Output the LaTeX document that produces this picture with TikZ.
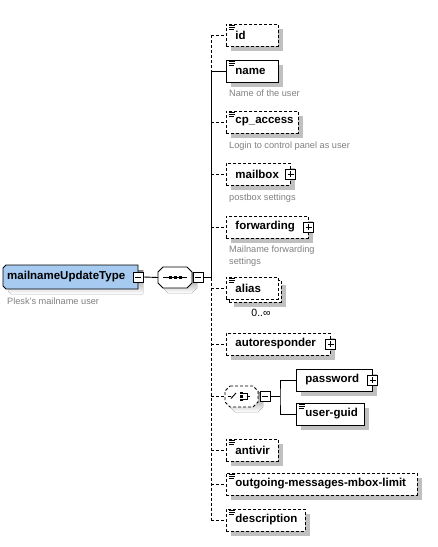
\documentclass[tikz,border=0pt]{standalone}
\usepackage{fontspec}
\setmainfont{Liberation Sans}
\usetikzlibrary{shadows}
\definecolor{shade}{RGB}{192,192,192}
\definecolor{rootblue}{RGB}{166,202,240}
\newcommand\elt[2]{\makebox[#1pt][l]{#2}}
\newcommand\docicon[1]{\draw[line width=.8pt] ([shift={(3,2)}]#1.north west) -- ++(6,0) ([shift={(3,4)}]#1.north west) -- ++(6,0) ([shift={(3,6)}]#1.north west) -- ++(5,0);}
% octagon outline with shadow: x0,y0,x1,y1,chamfer,style
\newcommand\octo[6]{%
  \fill[shade] (#1+#5+5,#2+5) -- (#3-#5+5,#2+5) -- (#3+5,#2+#5+5) -- (#3+5,#4-#5+5) -- (#3-#5+5,#4+5) -- (#1+#5+5,#4+5) -- (#1+5,#4-#5+5) -- (#1+5,#2+#5+5) -- cycle;
  \draw[line width=.9pt, fill=white, #6] (#1+#5,#2) -- (#3-#5,#2) -- (#3,#2+#5) -- (#3,#4-#5) -- (#3-#5,#4) -- (#1+#5,#4) -- (#1,#4-#5) -- (#1,#2+#5) -- cycle;}
\tikzset{
  elem/.style={draw, line width=.9pt, fill=white, rectangle, inner xsep=9pt, inner ysep=0pt,
    minimum height=22pt, anchor=west, font=\fontsize{11.5}{13}\selectfont\bfseries},
  shad/.style={drop shadow={shadow xshift=5pt, shadow yshift=-5pt, fill=shade, opacity=1}},
  box/.style={elem, shad},
  opt/.style={dash pattern=on 3pt off 2pt},
  conn/.style={line width=.9pt},
  optconn/.style={conn, dash pattern=on 3pt off 2pt},
  pmbox/.style={draw, fill=white, rectangle, minimum size=10pt, inner sep=0pt, line width=.9pt},
  pmplus/.style={pmbox, path picture={\draw[line width=.9pt]
     ([xshift=2pt]path picture bounding box.west) -- ([xshift=-2pt]path picture bounding box.east)
     ([yshift=-2pt]path picture bounding box.north) -- ([yshift=2pt]path picture bounding box.south);}},
  pmminus/.style={pmbox, path picture={\draw[line width=.9pt]
     ([xshift=2pt]path picture bounding box.west) -- ([xshift=-2pt]path picture bounding box.east);}},
  desc/.style={anchor=west, inner sep=0pt, text=gray, font=\fontsize{9.2}{12}\selectfont, align=left},
  hold/.style={rectangle, inner sep=0pt},
}
\begin{document}
\begin{tikzpicture}[x=1pt,y=-1pt]
\useasboundingbox (0,0) rectangle (438,547);

% root (chamfered on the left)
\fill[shade] (11,270) -- (143,270) -- (143,294) -- (11,294) -- (8,291) -- (8,273) -- cycle;
\draw[line width=.9pt, fill=rootblue] (6,265) -- (138,265) -- (138,289) -- (6,289) -- (3,286) -- (3,268) -- cycle;
\node[hold, anchor=west, minimum width=135pt, minimum height=24pt, font=\fontsize{11.5}{13}\selectfont\bfseries]
  (root) at (3,277) {\elt{127}{mailnameUpdateType}};
\node[pmminus] (rootminus) at (root.east) {};
\node[desc] (rootdesc) at (7,301) {Plesk's mailname user};

% sequence
\octo{158}{267}{192}{288}{5}{}
\node[hold, minimum width=34pt, minimum height=21pt] (seq) at (175,277.5) {};
\draw[line width=.9pt] ([xshift=5pt]seq.west) -- ([xshift=-5pt]seq.east);
\foreach \dx in {-5,0,5}
  \fill ([shift={(\dx-1.5,-1.5)}]seq.center) rectangle ++(3,3);
\node[pmminus] (seqminus) at (198,277.5) {};
\coordinate (bus) at (211,277.5);
\draw[conn] (rootminus.east) -- (seq.west);
\draw[conn] (seqminus.east) -- (bus);

% children
\node[box, opt] (id) at (226,35) {\elt{34}{id}};
\docicon{id}
\node[box] (name) at (226,71) {\elt{34}{name}};
\docicon{name}
\node[desc] (namedesc) at (229,93) {Name of the user};
\node[box, opt] (cpaccess) at (226,122) {\elt{54}{cp\_access}};
\docicon{cpaccess}
\node[desc] (cpdesc) at (229,146) {Login to control panel as user};
\node[box, opt] (mailbox) at (226,174) {\elt{46}{mailbox}};
\node[pmplus] (mailboxplus) at (mailbox.east) {};
\node[desc] (mailboxdesc) at (229,198) {postbox settings};
\node[box, opt] (forwarding) at (226,227) {\elt{64}{forwarding}};
\node[pmplus] (forwardingplus) at (forwarding.east) {};
\node[desc] (forwardingdesc) at (229,256) {Mailname forwarding\\settings};

\node[box, opt, minimum width=52pt] (aliasback) at (229,291) {};
\node[elem, opt] (alias) at (226,288) {\elt{34}{alias}};
\docicon{alias}
\node[inner sep=0pt, font=\fontsize{10.5}{12}\selectfont] (aliasocc) at (261,312.5) {0..∞};

\node[box, opt] (autoresponder) at (226,344) {\elt{86}{autoresponder}};
\node[pmplus] (autoplus) at (autoresponder.east) {};

% choice
\octo{225}{386}{258}{407}{5}{dash pattern=on 3pt off 2pt}
\node[hold, minimum width=33pt, minimum height=21pt] (choice) at (241.5,396.5) {};
\draw[line width=.9pt] (228,396.5) -- (231,396.5) (231,398.5) -- (236,393);
\foreach \dy in {-3.5,0,3.5}
  \fill (240,396.5+\dy-1.2) rectangle ++(2.6,2.4);
\draw[line width=.9pt] (243,393.5) -- (247,393.5) -- (247,399.5) -- (243,399.5) (247,396.5) -- (250,396.5);
\node[pmminus] (chminus) at (265,396.5) {};
\coordinate (chbus) at (280,396.5);
\node[box] (password) at (296,380) {\elt{58}{password}};
\node[pmplus] (passwordplus) at (password.east) {};
\node[box] (userguid) at (296,414) {\elt{50}{user-guid}};
\docicon{userguid}
\draw[conn] (chminus.east) -- (chbus);
\draw[conn] (password.west) -| (chbus) |- (userguid.west);

\node[box, opt] (antivir) at (226,450) {\elt{34}{antivir}};
\docicon{antivir}
\node[box, opt] (outgoing) at (226,484) {\elt{173}{outgoing-messages-mbox-limit}};
\docicon{outgoing}
\node[box, opt] (description) at (226,520) {\elt{61}{description}};
\docicon{description}

% bus
\draw[optconn] (id.west -| bus) -- (name.west -| bus);
\draw[conn] (name.west -| bus) -- (bus);
\draw[optconn] (bus) -- (description.west -| bus);
\draw[conn] (name.west -| bus) -- (name.west);
\foreach \n in {id,cpaccess,mailbox,forwarding,alias,autoresponder,choice,antivir,outgoing,description}
  \draw[optconn] (\n.west -| bus) -- (\n.west);
\end{tikzpicture}
\end{document}
